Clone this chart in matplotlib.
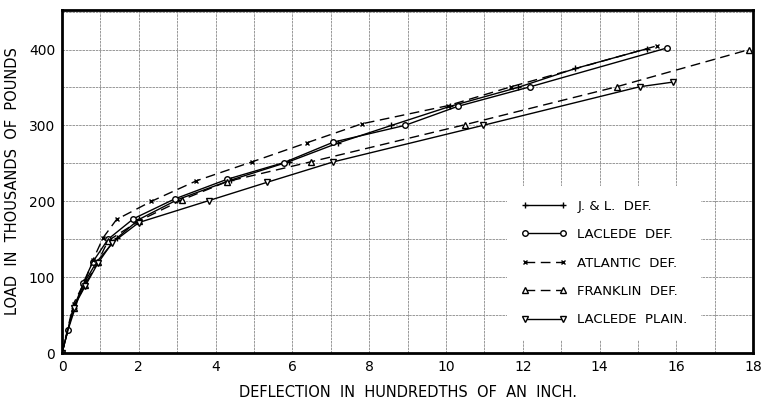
import matplotlib
matplotlib.use('Agg')
import matplotlib.pyplot as plt
import numpy as np

# deflection (hundredths of an inch) and load (thousands of pounds)
jl_x = [0, 0.3, 0.55, 0.9, 1.42, 2.0, 3.0, 4.4, 5.9, 7.2, 8.58, 10.1, 11.87, 13.37, 15.23]
jl_y = [0, 60, 90, 120, 151, 176, 202, 228, 252, 277, 300, 325, 350, 375, 401]

lac_x = [0, 0.16, 0.55, 0.8, 1.2, 1.86, 2.93, 4.3, 5.78, 7.07, 8.93, 10.3, 12.2, 15.75]
lac_y = [0, 31, 92, 120, 150, 177, 203, 229, 251, 278, 300, 325, 351, 402]

atl_x = [0, 0.3, 0.6, 0.8, 1.07, 1.42, 2.33, 3.5, 4.95, 6.37, 7.8, 10.05, 11.7, 15.5]
atl_y = [0, 65, 95, 122, 152, 176, 200, 227, 252, 277, 302, 326, 351, 405]

fr_x = [0, 0.3, 0.6, 0.93, 1.2, 2.0, 3.13, 4.3, 6.48, 10.5, 14.45, 17.9]
fr_y = [0, 60, 90, 120, 148, 174, 202, 226, 252, 301, 351, 400]

lp_x = [0, 0.3, 0.6, 0.93, 1.3, 2.0, 3.83, 5.34, 7.07, 10.96, 15.05, 15.9]
lp_y = [0, 60, 88, 118, 145, 172, 201, 225, 252, 300, 351, 357]

labels = ['J. & L.  DEF.', 'LACLEDE  DEF.', 'ATLANTIC  DEF.', 'FRANKLIN  DEF.', 'LACLEDE  PLAIN.']

fig = plt.figure(figsize=(7.62, 4.03), dpi=100)
ax = fig.add_axes([0.0814, 0.124, 0.907, 0.851])

ax.set_xlim(0, 18)
ax.set_ylim(0, 452)
ax.set_xticks(np.arange(0, 19, 2))
ax.set_xticks(np.arange(0, 19, 1), minor=True)
ax.set_yticks(np.arange(0, 401, 100))
ax.set_yticks(np.arange(0, 451, 50), minor=True)
ax.grid(which='both', color='#888888', linestyle=(0, (3, 1)), linewidth=0.6)
ax.set_axisbelow(True)
ax.tick_params(which='both', length=0, labelsize=10, pad=5)
for s in ax.spines.values():
  s.set_linewidth(2.0)

lw = 1.0
ms = 4
ax.plot(jl_x, jl_y, color='black', lw=lw, marker='+', ms=ms + 1, label=labels[0])
ax.plot(lac_x, lac_y, color='black', lw=lw, marker='o', ms=ms, mfc='white', label=labels[1])
ax.plot(atl_x, atl_y, color='black', lw=lw, ls=(0, (7, 4)), marker='x', ms=ms - 0.5, label=labels[2])
ax.plot(fr_x, fr_y, color='black', lw=lw, ls=(0, (7, 4)), marker='^', ms=ms, mfc='white', label=labels[3])
ax.plot(lp_x, lp_y, color='black', lw=lw, marker='v', ms=ms, mfc='white', label=labels[4])

leg = ax.legend(loc='lower left', bbox_to_anchor=(0.635, 0.02), numpoints=2,
                handlelength=3.5, labelspacing=1.17, fontsize=9.5, frameon=True,
                borderpad=1.0, handletextpad=0.8)
leg.get_frame().set_facecolor('white')
leg.get_frame().set_edgecolor('none')
leg.get_frame().set_alpha(1)

ax.set_xlabel('DEFLECTION  IN  HUNDREDTHS  OF  AN  INCH.', fontsize=10.5, labelpad=8)
ax.set_ylabel('LOAD  IN  THOUSANDS  OF  POUNDS', fontsize=10.5, labelpad=6)

fig.savefig('out.png', dpi=100)
